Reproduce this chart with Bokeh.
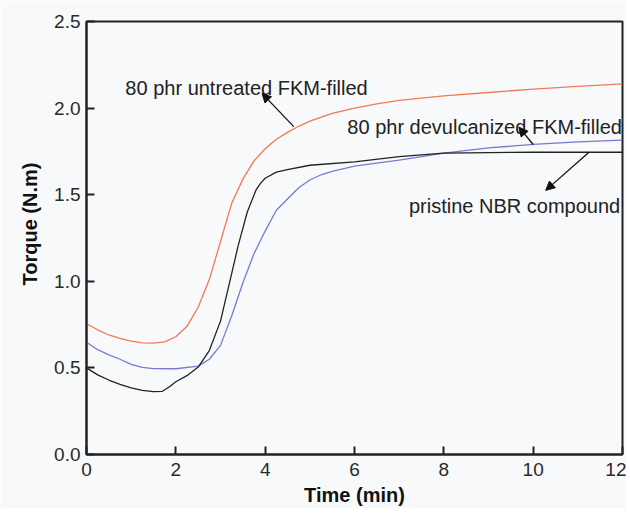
from bokeh.plotting import figure
from bokeh.models import FixedTicker, NumeralTickFormatter, Label, Arrow, NormalHead, Range1d, Title
from bokeh.embed import file_html
from bokeh.resources import INLINE

# ---- data ----
t_untreated = [0, 0.25, 0.5, 0.75, 1.0, 1.25, 1.5, 1.75, 2.0, 2.25, 2.5, 2.75, 3.0, 3.25, 3.5,
               3.75, 4.0, 4.25, 4.5, 4.75, 5.0, 5.5, 6.0, 6.5, 7.0, 8.0, 9.0, 10.0, 11.0, 12.0]
torque_untreated = [0.755, 0.72, 0.69, 0.67, 0.655, 0.645, 0.643, 0.65, 0.68, 0.74, 0.85, 1.01, 1.23, 1.45, 1.59,
                    1.695, 1.765, 1.82, 1.86, 1.895, 1.925, 1.97, 2.00, 2.025, 2.045, 2.07, 2.09, 2.11, 2.125, 2.14]

t_devulc = [0, 0.25, 0.5, 0.75, 1.0, 1.25, 1.5, 2.0, 2.5, 2.75, 3.0, 3.25, 3.5, 3.75, 4.0,
            4.25, 4.5, 4.75, 5.0, 5.25, 5.5, 6.0, 7.0, 8.0, 9.0, 10.0, 11.0, 12.0]
torque_devulc = [0.648, 0.605, 0.575, 0.55, 0.52, 0.503, 0.496, 0.495, 0.51, 0.55, 0.63, 0.80, 0.99, 1.16, 1.29,
                 1.41, 1.475, 1.54, 1.585, 1.615, 1.635, 1.665, 1.70, 1.74, 1.77, 1.79, 1.805, 1.815]

t_pristine = [0, 0.25, 0.5, 0.75, 1.0, 1.25, 1.5, 1.7, 1.85, 2.0, 2.25, 2.5, 2.75, 3.0, 3.2,
              3.4, 3.6, 3.8, 3.9, 4.0, 4.25, 4.5, 5.0, 6.0, 7.0, 8.0, 9.0, 10.0, 11.0, 12.0]
torque_pristine = [0.50, 0.46, 0.43, 0.405, 0.385, 0.37, 0.363, 0.365, 0.39, 0.42, 0.455, 0.505, 0.60, 0.77, 0.99,
                   1.21, 1.40, 1.53, 1.567, 1.595, 1.63, 1.645, 1.67, 1.69, 1.72, 1.74, 1.743, 1.745, 1.745, 1.745]

x_ticks = [0, 2, 4, 6, 8, 10, 12]
y_ticks = [0.0, 0.5, 1.0, 1.5, 2.0, 2.5]

FONT = "Liberation Sans"
BG = "#f8f9fb"

p = figure(width=626, height=508, output_backend="svg", toolbar_location=None,
           x_range=Range1d(0, 12), y_range=Range1d(0, 2.5),
           min_border_left=86, min_border_right=4, min_border_top=21, min_border_bottom=52)
p.background_fill_color = BG
p.border_fill_color = BG
p.outline_line_color = "#222222"
p.outline_line_width = 2
p.xgrid.visible = False
p.ygrid.visible = False

for ax in (p.xaxis[0], p.yaxis[0]):
    ax.major_tick_in = 8
    ax.major_tick_out = 0
    ax.minor_tick_line_color = None
    ax.axis_line_width = 2
    ax.axis_line_color = "#222222"
    ax.major_tick_line_width = 2
    ax.major_tick_line_color = "#222222"
    ax.major_label_text_font = FONT
    ax.major_label_text_font_size = "19px"
    ax.major_label_text_color = "#2a2a2a"
    ax.axis_label_text_font = FONT
    ax.axis_label_text_font_size = "20px"
    ax.axis_label_text_font_style = "bold"
    ax.axis_label_text_color = "#111111"

p.xaxis.ticker = FixedTicker(ticks=x_ticks)
p.yaxis.ticker = FixedTicker(ticks=y_ticks)
p.yaxis.formatter = NumeralTickFormatter(format="0.0")
p.xaxis.axis_label = "Time (min)"
p.xaxis.major_label_standoff = 8
p.yaxis.major_label_standoff = 6
p.xaxis.axis_label_standoff = 5

# y-axis title, placed like the reference (slightly above the frame centre)
p.add_layout(Title(text="Torque (N.m)", align="left", offset=169, text_font=FONT,
                   text_font_size="20px", text_font_style="bold", text_color="#111111",
                   standoff=22), "left")

p.line(t_untreated, torque_untreated, line_color="#f27a52", line_width=1.3)
p.line(t_devulc, torque_devulc, line_color="#7a78d4", line_width=1.3)
p.line(t_pristine, torque_pristine, line_color="#222222", line_width=1.3)

labels = [("80 phr untreated FKM-filled", 0.87, 2.115),
          ("80 phr devulcanized FKM-filled", 5.84, 1.893),
          ("pristine NBR compound", 7.22, 1.433)]
for txt, lx, ly in labels:
    p.add_layout(Label(x=lx, y=ly, text=txt, text_font=FONT, text_font_size="20px",
                       text_color="#222222", text_align="left", text_baseline="alphabetic"))

arrows = [(4.64, 1.893, 3.93, 2.085),
          (10.0, 1.79, 9.68, 1.89),
          (11.25, 1.745, 10.28, 1.525)]
for x0, y0, x1, y1 in arrows:
    p.add_layout(Arrow(end=NormalHead(size=9, fill_color="#111111", line_color="#111111", line_width=1),
                       x_start=x0, y_start=y0, x_end=x1, y_end=y1,
                       line_color="#111111", line_width=1.3))

open("out.html", "w").write(file_html(p, INLINE))
